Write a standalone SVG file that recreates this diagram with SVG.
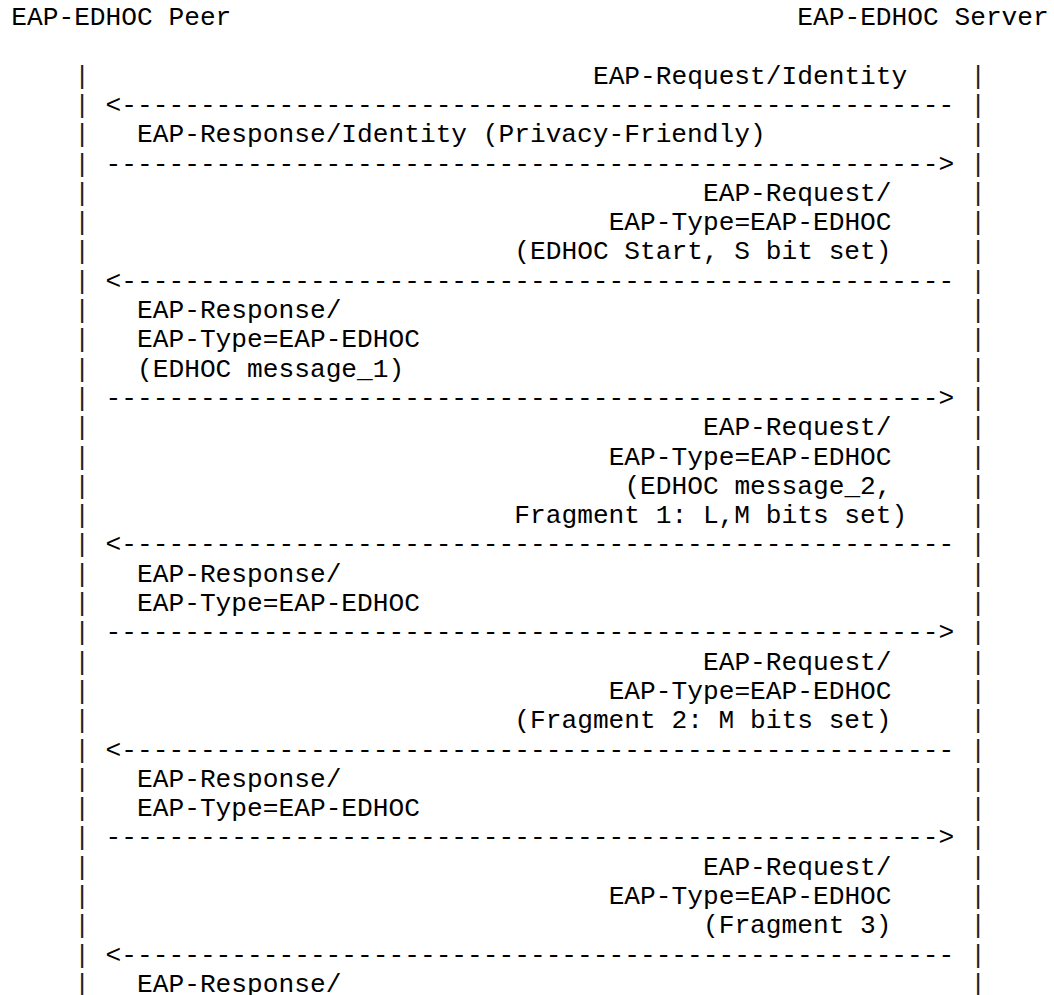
<svg xmlns="http://www.w3.org/2000/svg" width="1054" height="995" viewBox="0 0 1054 995">
<style>
text { font-family: "Liberation Mono", "Courier New", monospace; font-size: 26.2px; fill: #000; }
.bar { fill: #222; }
</style>
<rect width="1054" height="995" fill="#fff"/>
<g id="peer">
<text x="11.3" y="25">EAP-EDHOC Peer</text>
<text class="bar"><tspan x="74.18" y="83.6">|</tspan><tspan x="74.18" y="112.9">|</tspan><tspan x="74.18" y="142.2">|</tspan><tspan x="74.18" y="171.5">|</tspan><tspan x="74.18" y="200.8">|</tspan><tspan x="74.18" y="230.1">|</tspan><tspan x="74.18" y="259.4">|</tspan><tspan x="74.18" y="288.7">|</tspan><tspan x="74.18" y="318">|</tspan><tspan x="74.18" y="347.3">|</tspan><tspan x="74.18" y="376.6">|</tspan><tspan x="74.18" y="405.9">|</tspan><tspan x="74.18" y="435.2">|</tspan><tspan x="74.18" y="464.5">|</tspan><tspan x="74.18" y="493.8">|</tspan><tspan x="74.18" y="523.1">|</tspan><tspan x="74.18" y="552.4">|</tspan><tspan x="74.18" y="581.7">|</tspan><tspan x="74.18" y="611">|</tspan><tspan x="74.18" y="640.3">|</tspan><tspan x="74.18" y="669.6">|</tspan><tspan x="74.18" y="698.9">|</tspan><tspan x="74.18" y="728.2">|</tspan><tspan x="74.18" y="757.5">|</tspan><tspan x="74.18" y="786.8">|</tspan><tspan x="74.18" y="816.1">|</tspan><tspan x="74.18" y="845.4">|</tspan><tspan x="74.18" y="874.7">|</tspan><tspan x="74.18" y="904">|</tspan><tspan x="74.18" y="933.3">|</tspan><tspan x="74.18" y="962.6">|</tspan><tspan x="74.18" y="991.9">|</tspan></text>
</g>
<g id="server">
<text x="797.3" y="25">EAP-EDHOC Server</text>
<text class="bar"><tspan x="970.22" y="83.6">|</tspan><tspan x="970.22" y="112.9">|</tspan><tspan x="970.22" y="142.2">|</tspan><tspan x="970.22" y="171.5">|</tspan><tspan x="970.22" y="200.8">|</tspan><tspan x="970.22" y="230.1">|</tspan><tspan x="970.22" y="259.4">|</tspan><tspan x="970.22" y="288.7">|</tspan><tspan x="970.22" y="318">|</tspan><tspan x="970.22" y="347.3">|</tspan><tspan x="970.22" y="376.6">|</tspan><tspan x="970.22" y="405.9">|</tspan><tspan x="970.22" y="435.2">|</tspan><tspan x="970.22" y="464.5">|</tspan><tspan x="970.22" y="493.8">|</tspan><tspan x="970.22" y="523.1">|</tspan><tspan x="970.22" y="552.4">|</tspan><tspan x="970.22" y="581.7">|</tspan><tspan x="970.22" y="611">|</tspan><tspan x="970.22" y="640.3">|</tspan><tspan x="970.22" y="669.6">|</tspan><tspan x="970.22" y="698.9">|</tspan><tspan x="970.22" y="728.2">|</tspan><tspan x="970.22" y="757.5">|</tspan><tspan x="970.22" y="786.8">|</tspan><tspan x="970.22" y="816.1">|</tspan><tspan x="970.22" y="845.4">|</tspan><tspan x="970.22" y="874.7">|</tspan><tspan x="970.22" y="904">|</tspan><tspan x="970.22" y="933.3">|</tspan><tspan x="970.22" y="962.6">|</tspan><tspan x="970.22" y="991.9">|</tspan></text>
</g>
<g id="connectors">
<g id="msg1">
<text x="592.94" y="83.6">EAP-Request/Identity</text>
<text x="105.62" y="112.9">&lt;-----------------------------------------------------</text>
</g>
<g id="msg2">
<text x="137.06" y="142.2">EAP-Response/Identity (Privacy-Friendly)</text>
<text x="105.62" y="171.5">-----------------------------------------------------&gt;</text>
</g>
<g id="msg3">
<text x="702.98" y="200.8">EAP-Request/</text>
<text x="608.66" y="230.1">EAP-Type=EAP-EDHOC</text>
<text x="514.34" y="259.4">(EDHOC Start, S bit set)</text>
<text x="105.62" y="288.7">&lt;-----------------------------------------------------</text>
</g>
<g id="msg4">
<text x="137.06" y="318">EAP-Response/</text>
<text x="137.06" y="347.3">EAP-Type=EAP-EDHOC</text>
<text x="137.06" y="376.6">(EDHOC message_1)</text>
<text x="105.62" y="405.9">-----------------------------------------------------&gt;</text>
</g>
<g id="msg5">
<text x="702.98" y="435.2">EAP-Request/</text>
<text x="608.66" y="464.5">EAP-Type=EAP-EDHOC</text>
<text x="624.38" y="493.8">(EDHOC message_2,</text>
<text x="514.34" y="523.1">Fragment 1: L,M bits set)</text>
<text x="105.62" y="552.4">&lt;-----------------------------------------------------</text>
</g>
<g id="msg6">
<text x="137.06" y="581.7">EAP-Response/</text>
<text x="137.06" y="611">EAP-Type=EAP-EDHOC</text>
<text x="105.62" y="640.3">-----------------------------------------------------&gt;</text>
</g>
<g id="msg7">
<text x="702.98" y="669.6">EAP-Request/</text>
<text x="608.66" y="698.9">EAP-Type=EAP-EDHOC</text>
<text x="514.34" y="728.2">(Fragment 2: M bits set)</text>
<text x="105.62" y="757.5">&lt;-----------------------------------------------------</text>
</g>
<g id="msg8">
<text x="137.06" y="786.8">EAP-Response/</text>
<text x="137.06" y="816.1">EAP-Type=EAP-EDHOC</text>
<text x="105.62" y="845.4">-----------------------------------------------------&gt;</text>
</g>
<g id="msg9">
<text x="702.98" y="874.7">EAP-Request/</text>
<text x="608.66" y="904">EAP-Type=EAP-EDHOC</text>
<text x="702.98" y="933.3">(Fragment 3)</text>
<text x="105.62" y="962.6">&lt;-----------------------------------------------------</text>
</g>
<g id="msg10">
<text x="137.06" y="991.9">EAP-Response/</text>
</g>
</g>
</svg>
